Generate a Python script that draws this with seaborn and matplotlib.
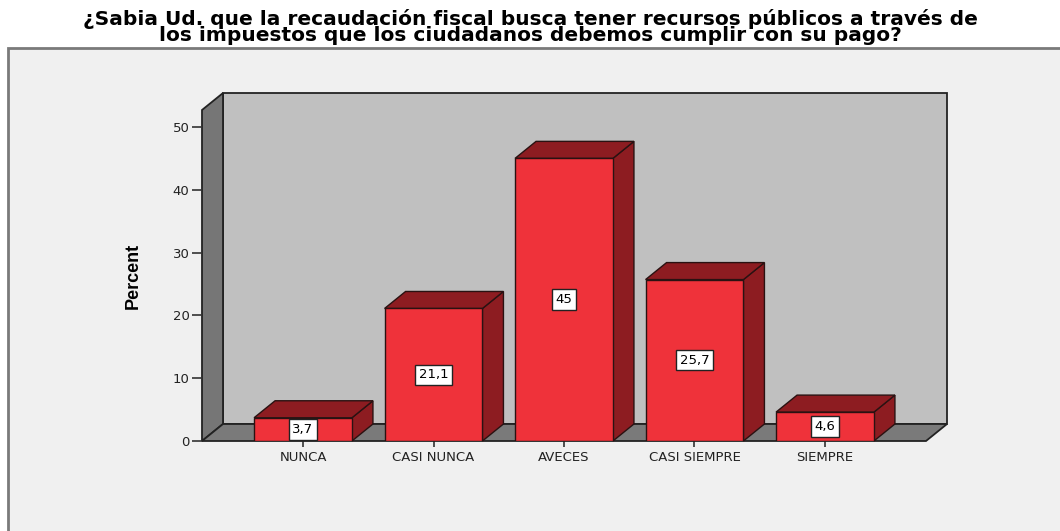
import matplotlib
matplotlib.use("Agg")
import matplotlib.pyplot as plt
from matplotlib.patches import Polygon, Rectangle
import seaborn as sns
import pandas as pd

categories = ["NUNCA", "CASI NUNCA", "AVECES", "CASI SIEMPRE", "SIEMPRE"]
percent = [3.7, 21.1, 45.0, 25.7, 4.6]
yticks = [0, 10, 20, 30, 40, 50]
title_lines = ["¿Sabia Ud. que la recaudación fiscal busca tener recursos públicos a través de",
               "los impuestos que los ciudadanos debemos cumplir con su pago?"]

sns.set_theme(style="white")
plt.rcParams['font.family'] = ['DejaVu Sans']

W, H = 1060, 531
fig = plt.figure(figsize=(W / 100, H / 100), dpi=100)
fig.patch.set_facecolor("white")
fig.patches.append(Rectangle((8 / W, -0.01), (1070 - 8) / W, (531 - 48) / H + 0.01,
                             transform=fig.transFigure, fc="#f0f0f0", ec="#7a7a7a",
                             lw=2.0, zorder=-5))

ax = fig.add_axes([202 / W, (H - 441) / H, 724 / W, (441 - 110) / H])
ax.set_facecolor("none")

df = pd.DataFrame({"cat": categories, "pct": percent})
front = "#ef323a"
dark = "#8d1c21"
edge = "#2a1212"
sns.barplot(data=df, x="cat", y="pct", color=front, saturation=1, width=0.75,
            edgecolor=edge, linewidth=1.0, ax=ax, zorder=3)

x0, x1 = -0.774, 4.774
ymax = 52.7
ax.set_xlim(x0, x1)
ax.set_ylim(0, ymax)
sx = (x1 - x0) / 724
sy = ymax / 331
dxp, dyp = 21, 17
dx, dy = dxp * sx, dyp * sy

wall_edge = "#222222"
ax.add_patch(Rectangle((x0 + dx, dy), x1 - x0, ymax, fc="#c0c0c0", ec=wall_edge,
                       lw=1.3, clip_on=False, zorder=0))
ax.add_patch(Polygon([(x0, 0), (x0 + dx, dy), (x0 + dx, ymax + dy), (x0, ymax)],
                     closed=True, fc="#767676", ec=wall_edge, lw=1.3, clip_on=False, zorder=0.5))
ax.add_patch(Polygon([(x0, 0), (x1, 0), (x1 + dx, dy), (x0 + dx, dy)],
                     closed=True, fc="#7a7a7a", ec=wall_edge, lw=1.3, clip_on=False, zorder=0.6))

bars = [q for q in ax.patches if q.get_zorder() == 3]
for p, v in zip(bars, percent):
    bx0 = p.get_x()
    bx1 = bx0 + p.get_width()
    h = p.get_height()
    ax.add_patch(Polygon([(bx1, 0), (bx1, h), (bx1 + dx, h + dy), (bx1 + dx, dy)],
                         closed=True, fc=dark, ec=edge, lw=1.0, clip_on=False, zorder=2))
    ax.add_patch(Polygon([(bx0, h), (bx1, h), (bx1 + dx, h + dy), (bx0 + dx, h + dy)],
                         closed=True, fc=dark, ec=edge, lw=1.0, clip_on=False, zorder=2))
    lab = f"{v:g}".replace(".", ",")
    ax.text(bx0 + p.get_width() / 2, h / 2, lab, ha="center", va="center", fontsize=9.5,
            color="black", zorder=5,
            bbox=dict(boxstyle="square,pad=0.28", fc="white", ec="#222222", lw=1.0))

for s in ax.spines.values():
    s.set_visible(False)
ax.set_yticks(yticks)
ax.tick_params(axis="y", left=True, length=7.5, width=1.2, color="#333333", pad=1.5,
               labelsize=9.5, labelcolor="#222222")
ax.tick_params(axis="x", bottom=True, length=4.5, width=1.2, color="#333333", pad=3,
               labelsize=9.5, labelcolor="#222222")
ax.set_xlabel("")
ax.set_ylabel("Percent", fontsize=13, fontweight="bold",
              family=["Liberation Sans", "DejaVu Sans"], color="black")
ax.yaxis.set_label_coords((142 - 202) / 724, 0.5)

fig.text(0.5, 1 - 9 / H, "\n".join(title_lines), ha="center", va="top", fontsize=14.5,
         fontweight="bold", color="black", linespacing=0.82, multialignment="center")

fig.savefig("out.png", dpi=100)
